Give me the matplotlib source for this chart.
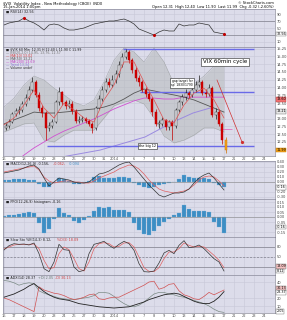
import numpy as np
import pandas as pd
import matplotlib.pyplot as plt

# $VIX 60min bars (3 bars per session), Dec 16 2013 -> Jan 15 2014
closes = [12.76, 12.89, 13.15, 13.24, 13.28, 13.47, 13.66, 13.92, 14.18, 13.76,
          13.34, 13.18, 12.70, 12.76, 12.89, 13.53, 13.85, 13.53, 13.41, 13.47,
          13.24, 12.92, 12.96, 12.99, 12.92, 12.83, 12.70, 13.34, 13.63, 13.92,
          14.18, 14.08, 14.24, 14.43, 14.72, 14.98, 15.14, 14.88, 14.56, 14.30,
          14.18, 13.92, 13.79, 13.63, 13.21, 12.83, 12.83, 12.96, 12.73, 12.89,
          12.76, 13.28, 13.53, 13.69, 13.82, 13.76, 13.92, 14.08, 14.18, 13.82,
          13.79, 13.98, 13.12, 13.21, 12.83, 12.31, 11.99]
highs = [12.85, 12.98, 13.22, 13.35, 13.40, 13.55, 13.78, 14.05, 14.35, 14.25,
         13.85, 13.45, 13.25, 12.90, 13.00, 13.60, 14.00, 13.90, 13.60, 13.60,
         13.55, 13.30, 13.10, 13.10, 13.05, 13.00, 12.90, 13.40, 13.75, 14.05,
         14.30, 14.30, 14.40, 14.55, 14.85, 15.10, 15.25, 15.20, 14.95, 14.65,
         14.40, 14.25, 14.00, 13.85, 13.70, 13.30, 12.95, 13.05, 13.00, 12.95,
         12.95, 13.35, 13.60, 13.80, 13.95, 13.90, 14.00, 14.20, 14.40, 14.25,
         13.95, 14.10, 14.05, 13.35, 13.30, 12.90, 12.40]
lows = [12.62, 12.70, 12.85, 13.08, 13.15, 13.22, 13.40, 13.60, 13.85, 13.70,
        13.25, 13.05, 12.31, 12.60, 12.70, 12.85, 13.45, 13.45, 13.30, 13.35,
        13.15, 12.85, 12.85, 12.88, 12.85, 12.75, 12.55, 12.65, 13.30, 13.55,
        13.85, 14.00, 14.00, 14.15, 14.35, 14.65, 14.90, 14.80, 14.45, 14.20,
        14.05, 13.85, 13.70, 13.55, 13.10, 12.75, 12.70, 12.75, 12.65, 12.65,
        12.31, 12.70, 13.20, 13.45, 13.60, 13.65, 13.70, 13.85, 14.00, 13.75,
        13.70, 13.72, 13.05, 13.00, 12.75, 12.20, 11.90]
first_open = 12.70

day_labels = ['16', '17', '18', '19', '20', '23', '24', '26', '27', '30', '31', '2014',
              '3', '6', '7', '8', '9', '10', '13', '14', '15', '16', '17', '21',
              '22', '23', '24']

# overlays, one reading per session
ma10 = [12.80, 13.02, 13.44, 13.92, 13.34, 13.02, 13.50, 13.28, 13.02, 12.89, 13.60, 14.08,
        14.82, 14.82, 14.18, 13.60, 12.96, 12.86, 13.44, 13.82, 13.98, 13.60, 13.02]
ma50 = [12.83, 12.96, 13.08, 13.21, 13.18, 13.18, 13.21, 13.24, 13.28, 13.31, 13.37, 13.47,
        13.63, 13.82, 13.95, 13.89, 13.82, 13.76, 13.69, 13.60, 13.47, 13.34, 13.21]
ma200 = [11.35, 11.58, 11.83, 12.06, 12.25, 12.44, 12.60, 12.73, 12.86, 12.99, 13.15, 13.31,
         13.44, 13.57, 13.66, 13.66, 13.63, 13.63, 13.69, 13.69, 13.69, 13.69, 13.69]
bb_upper = [13.37, 13.66, 14.08, 14.37, 14.24, 13.98, 13.76, 13.53, 13.41, 13.60, 14.18, 14.88,
            15.27, 15.14, 14.82, 15.27, 14.82, 14.11, 14.05, 14.11, 14.37, 14.69, 14.95]
bb_lower = [12.57, 12.70, 12.83, 12.86, 12.31, 12.25, 12.47, 12.63, 12.63, 12.63, 13.02, 13.41,
            13.53, 13.60, 13.47, 13.02, 12.44, 12.22, 12.31, 12.47, 12.70, 12.70, 12.57]

# trend line and level lines drawn on the chart
trend_x = [5.3, 9.6, 14.1, 16.9, 18.9, 20.6]
trend_y = [11.74, 11.99, 12.41, 12.89, 13.18, 13.34]
level_top, level_mid, level_low = 15.23, 13.85, 12.12
arrow_x, arrow_y = [21.3, 23.8], [14.24, 12.25]

# indicators, two readings per session
rsi = [58.7, 64.5, 67.4, 70.3, 78.9, 70.3, 64.5, 55.8, 44.2, 58.7, 61.6, 58.7, 50.0, 44.2, 44.2,
       47.1, 50.0, 55.8, 61.6, 64.5, 67.4, 70.3, 70.3, 73.2, 76.0, 70.3, 61.6, 47.1, 41.3, 35.5,
       29.7, 38.4, 44.2, 41.3, 41.3, 61.6, 55.8, 58.7, 58.7, 64.5, 61.6, 58.7, 38.4, 35.5, 32.6]
macd = [0.18, 0.20, 0.22, 0.24, 0.28, 0.32, 0.34, 0.26, 0.08, -0.08, 0.00, 0.08, 0.06, 0.04, 0.00,
        -0.02, -0.02, 0.00, 0.08, 0.16, 0.18, 0.22, 0.28, 0.34, 0.38, 0.40, 0.30, 0.18, 0.06, -0.06,
        -0.16, -0.26, -0.30, -0.26, -0.22, -0.22, -0.20, -0.14, -0.02, 0.08, 0.14, 0.18, 0.08, -0.04, -0.16]
macd_sig = [0.20, 0.22, 0.24, 0.26, 0.28, 0.30, 0.32, 0.24, 0.10, 0.02, -0.02, 0.00, 0.02, 0.02, 0.00,
            0.00, -0.02, -0.02, 0.02, 0.08, 0.12, 0.16, 0.20, 0.26, 0.30, 0.34, 0.32, 0.26, 0.16, 0.04,
            -0.06, -0.14, -0.18, -0.20, -0.22, -0.20, -0.18, -0.14, -0.06, 0.04, 0.10, 0.12, 0.10, 0.02, -0.08]
macd_hist = [0.03, 0.04, 0.05, 0.05, 0.05, 0.04, 0.03, -0.04, -0.11, -0.10, -0.02, 0.07, 0.05, 0.01, -0.05,
             -0.05, -0.03, 0.02, 0.10, 0.11, 0.08, 0.08, 0.08, 0.09, 0.09, 0.07, -0.02, -0.07, -0.11, -0.12,
             -0.10, -0.07, -0.05, -0.03, -0.01, 0.06, 0.13, 0.10, 0.08, 0.08, 0.07, 0.06, -0.03, -0.07, -0.10]
big_hist = [0.01, 0.02, 0.02, 0.03, 0.04, 0.05, 0.04, -0.06, -0.16, -0.12, -0.02, 0.09, 0.04, 0.02, -0.04,
            -0.06, -0.03, 0.01, 0.06, 0.10, 0.09, 0.10, 0.07, 0.07, 0.07, 0.05, -0.06, -0.13, -0.17, -0.18,
            -0.14, -0.09, -0.05, -0.02, 0.02, 0.04, 0.12, 0.08, 0.06, 0.06, 0.06, 0.05, -0.05, -0.10, -0.16]
stoch_k = [71, 84, 90, 88, 89, 86, 92, 60, 15, 6, 35, 88, 72, 70, 20, 6, 10, 60, 88, 92, 97, 85, 76,
           88, 97, 90, 70, 30, 6, 5, 8, 32, 62, 70, 60, 85, 99, 78, 80, 86, 75, 60, 45, 35, 8]
stoch_d = [74, 80, 86, 88, 88, 88, 89, 75, 40, 15, 18, 60, 80, 72, 45, 15, 8, 35, 75, 90, 93, 90, 80,
           82, 92, 93, 80, 50, 18, 7, 6, 18, 45, 65, 65, 75, 92, 85, 80, 82, 80, 68, 55, 40, 18]
adx = [21, 23, 25, 28, 31, 35, 38, 33, 28, 24, 21, 19, 18, 17, 15, 13, 12, 11, 10, 9, 8.5, 8, 7.5,
       8, 8.5, 9, 11, 13, 15, 18, 20, 22, 24, 25, 26, 25, 22, 19, 16, 14, 13, 13, 16, 21, 28]
plus_di = [42, 41, 39, 36, 38, 39, 38, 29, 26, 24, 22, 20, 19, 18, 18, 19, 20, 21, 23, 27, 27, 26, 22,
           17, 13, 10, 9, 11, 15, 20, 25, 27, 27, 25, 24, 22, 21, 19, 17, 15, 13, 10, 6, 3, 2]
minus_di = [20, 18, 15, 12, 9, 6, 3, 34, 30, 28, 26, 25, 23, 20, 18, 19, 21, 24, 25, 19, 18, 20, 21,
            21, 24, 27, 30, 33, 36, 40, 41, 31, 33, 37, 38, 29, 24, 22, 19, 18, 22, 27, 24, 27, 30]

W, H = 287, 320
BG = '#dcdcea'
GRID = '#c8c8d8'
fig = plt.figure(figsize=(W / 100, H / 100), dpi=100)
fig.patch.set_facecolor('white')


def panel(top, bot):
    ax = fig.add_axes([3 / W, 1 - bot / H, 272 / W, (bot - top) / H], facecolor=BG)
    ax.set_xlim(-0.1, 27.1)
    ax.set_xticks(range(len(day_labels)))
    ax.set_xticklabels([])
    ax.yaxis.tick_right()
    ax.tick_params(length=0, labelsize=2.6, colors='#444', pad=1)
    ax.grid(color=GRID, lw=0.4)
    ax.set_axisbelow(True)
    for s in ax.spines.values():
        s.set_color('#8a8a9a')
        s.set_linewidth(0.5)
    return ax


def tag(ax, y, txt, fc='white', ec='#666'):
    ax.text(1.005, y, txt, transform=ax.get_yaxis_transform(), fontsize=2.4, va='center', ha='left',
            bbox=dict(boxstyle='square,pad=0.12', fc=fc, ec=ec, lw=0.3), zorder=10, clip_on=False)


def legend(ax, y, parts):
    x = 0.012
    for txt, col in parts:
        ax.text(x, y, txt, transform=ax.transAxes, fontsize=2.4, color=col, va='top')
        x += 0.0072 * len(txt)


day_x = np.arange(len(ma10))
ind_x = np.arange(len(rsi)) * 0.5
bar_x = np.arange(len(closes)) / 3 + 1 / 6

# header
fig.text(3 / W, 1 - 1.5 / H, '$VIX  Volatility Index - New Methodology (CBOE)  INDX', fontsize=2.6, va='top')
fig.text(3 / W, 1 - 5.2 / H, '15-Jan-2014 1:00pm', fontsize=2.6, va='top')
fig.text(274 / W, 1 - 1 / H, '\u00a9 StockCharts.com', fontsize=2.6, va='top', ha='right')
fig.text(274 / W, 1 - 5.2 / H, 'Open 12.31  High 12.40  Low 11.90  Last 11.99  Chg -0.32 (-2.60%)',
         fontsize=2.6, va='top', ha='right')

# RSI
ax = panel(9, 47)
ax.set_ylim(-5, 105)
ax.set_yticks([10, 50, 70, 90])
ax.axhline(70, color='#80808c', lw=0.5)
ax.axhline(30, color='#80808c', lw=0.5)
ax.plot(ind_x, rsi, color='#333', lw=0.5)
ax.plot(ind_x[[4, 30, 44]], np.array(rsi)[[4, 30, 44]], 'o', color='#c00000', ms=1.2)
legend(ax, 0.98, [('\u25a0 RSI(14) 32.56', '#222')])
tag(ax, rsi[-1], '32.56')

# price
ax = panel(47, 156)
ax.set_ylim(11.8, 15.3)
ax.set_yticks([12.25, 12.5, 12.75, 13.0, 13.5, 13.75, 14.0, 14.25, 14.5, 14.75, 15.0, 15.25])
ax.yaxis.set_major_formatter(plt.FormatStrFormatter('%.2f'))
ax.fill_between(day_x, bb_lower, bb_upper, color='#b4b8b8', alpha=0.5, lw=0)
ax.plot(day_x, bb_upper, color='#9a9ea0', lw=0.3)
ax.plot(day_x, bb_lower, color='#9a9ea0', lw=0.3)
ax.plot(day_x, ma200, color='#d050d0', lw=0.6)
ax.plot(day_x, ma50, color='#555', lw=0.6)
ax.plot(trend_x, trend_y, color='#9a8ae0', lw=0.7)
ax.hlines(level_top, 11.9, 25, color='#6a6ae8', lw=1.0)
ax.hlines(level_mid, 13.6, 25, color='#6a6ae8', lw=1.0)
ax.hlines(level_low, 4.3, 25, color='#6a6ae8', lw=1.0)
ax.hlines(12.67, 21.6, 22.8, color='#e070c0', lw=0.6)

o = pd.Series(closes).shift(1).fillna(first_open).to_numpy()
c = np.array(closes)
up = c >= o
edge = np.where(up, '#222222', '#c00000').astype(object)
face = np.where(up, '#eeeef4', '#d00000').astype(object)
face[-1] = '#f2a21a'
edge[-1] = '#d07000'
ax.vlines(bar_x, lows, highs, colors=list(edge), lw=0.5, zorder=3)
ax.bar(bar_x, np.maximum(np.abs(c - o), 0.02), bottom=np.minimum(o, c), width=0.2,
       color=list(face), edgecolor=list(edge), lw=0.3, zorder=4)
ax.plot(day_x, ma10, color='#e05050', lw=0.5, zorder=5)

ax.plot(arrow_x, arrow_y, color='#d03030', lw=0.5, zorder=5)
ax.plot(arrow_x[-1], arrow_y[-1], 'o', color='#d03030', ms=1.3, zorder=5)

ax.text(22.1, 14.83, 'VIX 60min cycle', fontsize=4, ha='center', va='center', zorder=6,
        bbox=dict(boxstyle='square,pad=0.25', fc='white', ec='#222', lw=0.4))
ax.text(17.8, 14.14, "gap target for\nsp' 1830/1790", fontsize=2.2, ha='center', va='center', zorder=6,
        linespacing=1.1, bbox=dict(boxstyle='square,pad=0.3', fc='white', ec='#222', lw=0.4))
ax.text(13.5, level_low, 'the big 12', fontsize=2.4, ha='left', va='center', zorder=6,
        bbox=dict(boxstyle='square,pad=0.25', fc='white', ec='#222', lw=0.4))

lg = [('\u25a0 $VIX 60 Min  12.31 H 12.40 L 11.90 C 11.99', '#222'),
      ('\u2014 BB(20,2.0) 14.95, 13.76, 12.57', '#777'),
      ('\u2014 MA(10) 13.02', '#d04040'),
      ('\u2014 MA(50) 13.21', '#555'),
      ('\u2014 MA(200) 13.69', '#c040c0'),
      ('\u2014 Trend 13.34', '#8a7ad0'),
      ('\u2014 Volume undef', '#333')]
for i, (t, col) in enumerate(lg):
    ax.text(0.012, 0.995 - i * 0.028, t, transform=ax.transAxes, fontsize=2.3, color=col, va='top')
tag(ax, 11.99, '11.99', fc='#f2a21a', ec='#c07000')
tag(ax, 13.62, '13.60', fc='#f07070', ec='#c04040')
tag(ax, 13.24, '13.21', fc='#e8e8e8')
ax.set_xticklabels(day_labels)
ax.tick_params(axis='x', labelbottom=True, labelsize=2.6, colors='#555', pad=1)

# MACD
ax = panel(161, 199)
ax.set_ylim(-0.34, 0.42)
ax.set_yticks([-0.3, -0.2, 0.0, 0.1, 0.2, 0.3, 0.4])
ax.yaxis.set_major_formatter(plt.FormatStrFormatter('%.2f'))
ax.axhline(0, color='#888', lw=0.4)
ax.bar(ind_x, macd_hist, width=0.42, color='#3d8ec4', edgecolor='#7fb6dc', lw=0.2)
ax.plot(ind_x, macd_sig, color='#e06060', lw=0.5)
ax.plot(ind_x, macd, color='#333', lw=0.5)
legend(ax, 0.98, [('\u25a0 MACD(12,26,9) -0.156, ', '#222'), ('-0.062, ', '#d04040'), ('-0.094', '#3d8ec4')])
tag(ax, -0.11, '-0.16')

# MACD histogram
ax = panel(199, 237)
ax.set_ylim(-0.20, 0.18)
ax.set_yticks([-0.15, -0.05, 0.0, 0.05, 0.10, 0.15])
ax.yaxis.set_major_formatter(plt.FormatStrFormatter('%.2f'))
ax.axhline(0, color='#888', lw=0.4)
ax.bar(ind_x, big_hist, width=0.42, color='#3d8ec4', edgecolor='#7fb6dc', lw=0.2)
legend(ax, 0.98, [('\u25a0 PPO(12,26,9) histogram -0.16', '#222')])
tag(ax, -0.10, '-0.16')

# stochastics
ax = panel(237, 275)
ax.set_ylim(-4, 110)
ax.set_yticks([50, 80])
ax.axhline(80, color='#80808c', lw=0.5)
ax.axhline(20, color='#80808c', lw=0.5)
ax.axhline(50, color='#80808c', lw=0.5, ls=(0, (3, 2)))
ax.plot(ind_x, stoch_d, color='#e06060', lw=0.5)
ax.plot(ind_x, stoch_k, color='#333', lw=0.5)
legend(ax, 0.98, [('\u25a0 Slow Sto %K(14,3) 8.12, ', '#222'), ('%D(3) 18.09', '#d04040')])
tag(ax, 22, '18.09', fc='#f4c0c0')
tag(ax, 8, '8.12')

# ADX
ax = panel(275, 313)
ax.set_ylim(1.25, 48.75)
ax.set_yticks([10, 20, 40])
ax.plot(ind_x, plus_di, color='#7a8a84', lw=0.5)
ax.plot(ind_x, minus_di, color='#d05050', lw=0.5)
ax.plot(ind_x, adx, color='#222', lw=0.6)
legend(ax, 0.98, [('\u25a0 ADX(14) 28.37 ', '#222'), ('+DI 2.05 ', '#6a7a74'), ('-DI 30.13', '#d04040')])
tag(ax, 32, '30.13', fc='#f4c0c0')
tag(ax, 27, '28.37')
tag(ax, 3.5, '2.05')
ax.set_xticklabels(day_labels)
ax.tick_params(axis='x', labelbottom=True, labelsize=2.6, colors='#555', pad=1)

fig.savefig('out.png', dpi=100)
